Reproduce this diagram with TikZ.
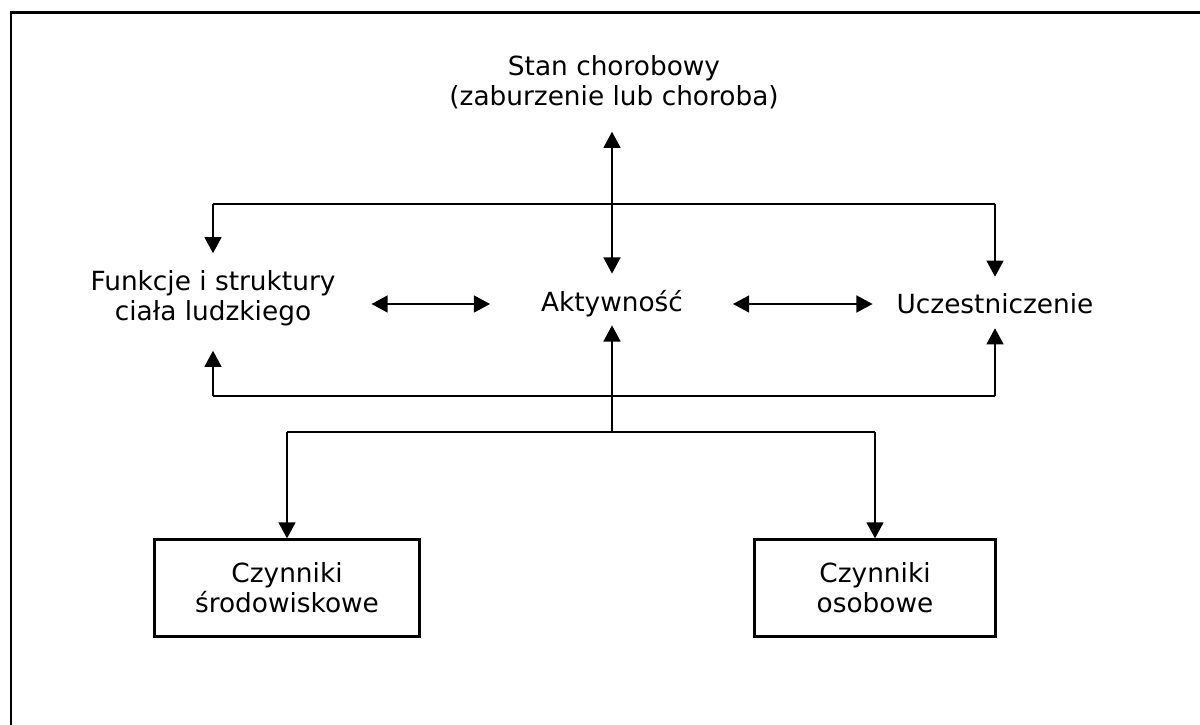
\documentclass[tikz,border=0pt]{standalone}
\usepackage{fontspec}
\setmainfont{DejaVu Sans}
\usetikzlibrary{arrows.meta}

\begin{document}
\begin{tikzpicture}[x=0.1mm,y=-0.1mm,line width=0.6pt,
    every node/.style={align=center,inner sep=0pt,font=\fontsize{7.5}{8.5}\selectfont},
    arr/.style={-{Triangle[length=4.6pt,width=4.8pt]}},
    dbl/.style={{Triangle[length=4.6pt,width=4.8pt]}-{Triangle[length=4.6pt,width=4.8pt]}},
    box/.style={draw,minimum height=9.7mm}]

\useasboundingbox (0,0) rectangle (1200,725);
\draw[line width=0.7pt] (1200,12.5) -- (11,12.5) -- (11,725);

\node (stan) at (614,82) {Stan chorobowy\\(zaburzenie lub choroba)};
\node (funk) at (213,298) {Funkcje i struktury\\ciała ludzkiego};
\node (akt) at (612,304) {Aktywność};
\node (ucz) at (995,304) {Uczestniczenie};
\node[box,minimum width=26.5mm] (sr) at (287,588) {Czynniki\\środowiskowe};
\node[box,minimum width=24.1mm] (os) at (875,588) {Czynniki\\osobowe};

\coordinate (jl) at (213,204);
\coordinate (jr) at (995,204);
\coordinate (jc) at (akt |- jl);
\draw (jl) -- (jr);
\draw[arr,shorten >=2.2mm] (jc) -- (jc |- stan.south);
\draw[arr,shorten >=1.6mm] (jl) -- (funk);
\draw[arr,shorten >=1.6mm] (jc) -- (akt);
\draw[arr,shorten >=1.6mm] (jr) -- (ucz);

\draw[dbl,shorten <=3.5mm,shorten >=5mm] (funk.east |- akt) -- (akt);
\draw[dbl,shorten <=4.9mm,shorten >=2.3mm] (akt) -- (ucz);

\coordinate (bl) at (213,396);
\coordinate (br) at (995,396);
\draw (bl) -- (br);
\draw[arr,shorten >=2.4mm] (bl) -- (funk);
\draw[arr,shorten >=1.3mm] (br) -- (ucz);

\coordinate (jb) at (612,432);
\draw[arr,shorten >=0.7mm] (jb) -- (akt);
\draw (sr |- jb) -- (os |- jb);
\draw[arr] (sr |- jb) -- (sr);
\draw[arr] (os |- jb) -- (os);
%\draw[help lines] (0,0) grid[step=100] (1200,725);
\end{tikzpicture}
\end{document}
